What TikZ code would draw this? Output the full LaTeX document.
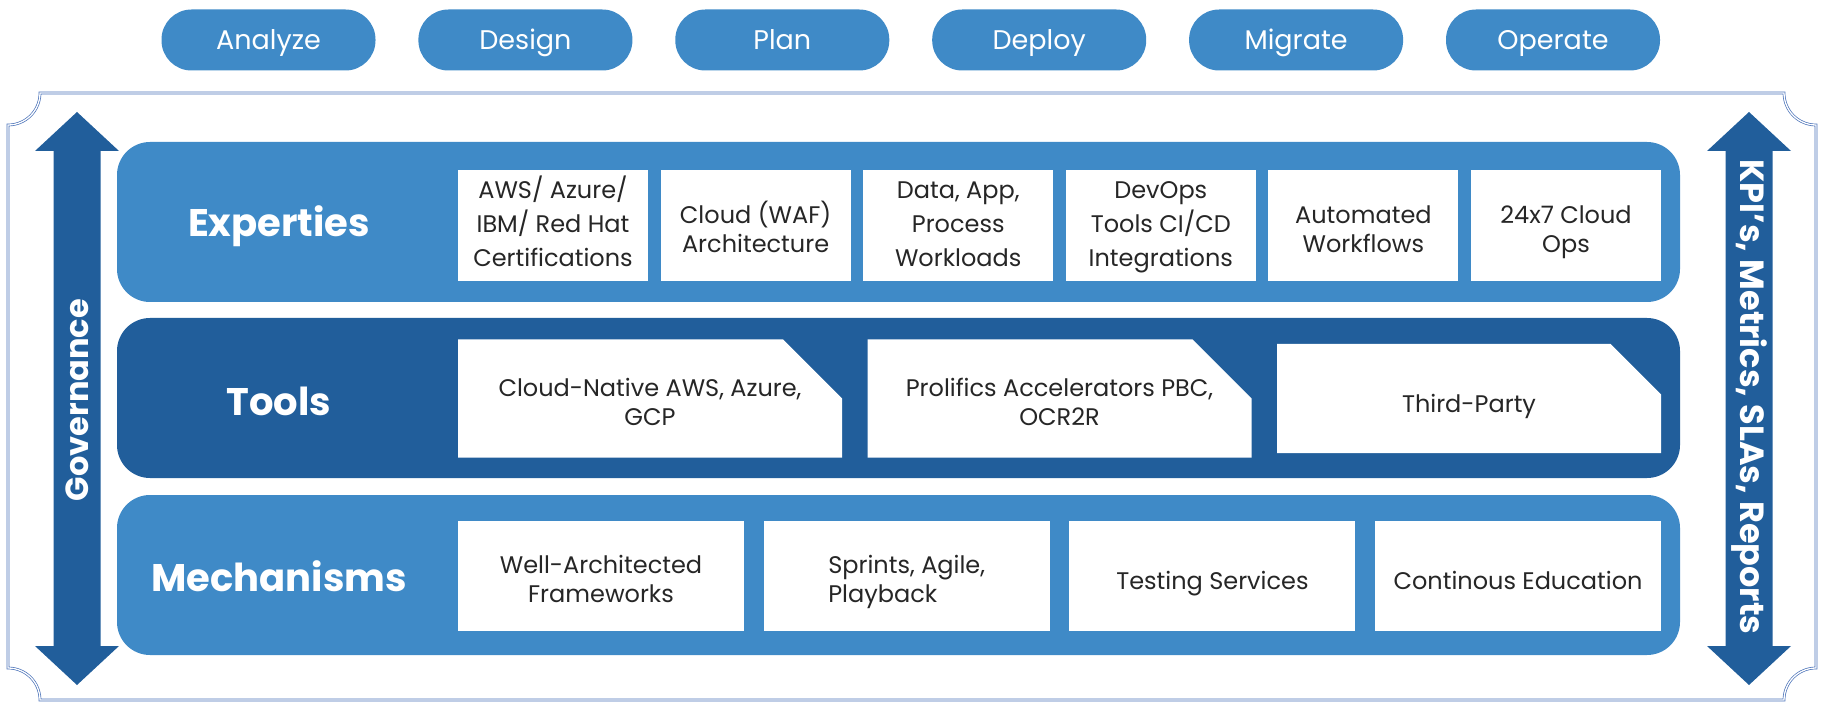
\documentclass[tikz,border=0pt]{standalone}
\usepackage{fontspec}
\setmainfont{Poppins}
\usetikzlibrary{shapes.misc}
\definecolor{lightblue}{HTML}{3F8AC7}
\definecolor{darkblue}{HTML}{215E9B}
\definecolor{frameblue}{HTML}{4A72B8}
\definecolor{itemtext}{HTML}{262626}
\tikzset{
	phase/.style={fill=lightblue, text=white, rounded corners=30pt, minimum width=214pt, minimum height=61pt, inner sep=0pt, text height=19pt, text depth=0pt, font=\fontsize{27}{30}\selectfont},
	layer/.style={rounded corners=33pt, minimum width=1563pt, minimum height=160pt, inner sep=0pt},
	layertitle/.style={text=white, inner sep=0pt, text height=27pt, text depth=0pt, font=\bfseries\fontsize{38.5}{42}\selectfont},
	item/.style={fill=white, text=itemtext, align=center, inner sep=0pt, text height=33pt, text depth=6pt, font=\fontsize{24}{29}\selectfont},
	twolines/.style={text height=55pt, text depth=1.4pt},
	threelines/.style={text height=82pt, text depth=0.6pt, font=\fontsize{24}{34}\selectfont},
	expitem/.style={item, minimum width=190pt, minimum height=111pt},
	mechitem/.style={item, minimum width=286pt, minimum height=110pt},
	toolitem/.style={item, chamfered rectangle, chamfered rectangle corners=north east, chamfered rectangle sep=31pt, minimum width=384pt, minimum height=109pt},
	sidetext/.style={text=white, inner sep=0pt, font=\bfseries\fontsize{32}{34}\selectfont},
	frameline/.style={draw=frameblue, line width=0.7pt, double=white, double distance=1.3pt}
}
\begin{document}
\begin{tikzpicture}[x=1pt,y=-1pt]
	\useasboundingbox (0,0) rectangle (1829,703);
	% phases
	\foreach \p [count=\i] in {Analyze,Design,Plan,Deploy,Migrate,Operate}
		\node[phase] (phase\i) at ({268.5+256.9*(\i-1)},40) {\p};
	
	% frame
	\draw[frameline] (8,125) .. controls (25.7,125) and (40,110.7) .. (40,93) -- (1784,93)
		.. controls (1784,110.7) and (1798.3,125) .. (1816,125) -- (1816,668)
		.. controls (1798.3,668) and (1784,682.3) .. (1784,700) -- (40,700)
		.. controls (40,682.3) and (25.7,668) .. (8,668) -- cycle;
	
	% governance
	\fill[darkblue] (77,112) -- (119,151) -- (100.5,151) -- (100.5,646) -- (119,646) -- (77,685)
		-- (35,646) -- (53.5,646) -- (53.5,151) -- (35,151) -- cycle;
	\node[sidetext, rotate=90] (gov) at (77,400) {Governance};
	% kpi
	\fill[darkblue] (1749,112) -- (1791,151) -- (1772.5,151) -- (1772.5,646) -- (1791,646) -- (1749,685)
		-- (1707,646) -- (1725.5,646) -- (1725.5,151) -- (1707,151) -- cycle;
	\node[sidetext, rotate=-90, font=\bfseries\fontsize{33.5}{36}\selectfont] (kpi) at (1749,397) {KPI’s, Metrics, SLAs, Reports};
	
	% layers
	\node[layer, fill=lightblue] (experties) at (898.5,222) {};
	\node[layer, fill=darkblue] (tools) at (898.5,398) {};
	\node[layer, fill=lightblue] (mechanisms) at (898.5,575) {};
	\node[layertitle] (expertiestitle) at (279,223) {Experties};
	\node[layertitle] (toolstitle) at (279,402) {Tools};
	\node[layertitle] (mechanismstitle) at (279,578) {Mechanisms};
	
	% experties
	\node[expitem, threelines] (exp1) at (553,225.5) {AWS/ Azure/\\IBM/ Red Hat\\Certifications};
	\node[expitem, twolines] (exp2) at (755.6,225.5) {Cloud (WAF)\\Architecture};
	\node[expitem, threelines] (exp3) at (958.2,225.5) {Data, App,\\Process\\Workloads};
	\node[expitem, threelines] (exp4) at (1160.8,225.5) {DevOps\\Tools CI/CD\\Integrations};
	\node[expitem, twolines] (exp5) at (1363.4,225.5) {Automated\\Workflows};
	\node[expitem, twolines] (exp6) at (1566,225.5) {24x7 Cloud\\Ops};
	
	% tools
	\node[toolitem, twolines] (tool1) at (650,398.5) {Cloud-Native AWS, Azure,\\GCP};
	\node[toolitem, twolines] (tool2) at (1059.5,398.5) {Prolifics Accelerators PBC,\\OCR2R};
	\node[toolitem] (tool3) at (1469,398.5) {Third-Party};
	
	% mechanisms
	\node[mechitem, twolines] (mech1) at (601,576) {Well-Architected\\Frameworks};
	\node[mechitem, twolines, align=left] (mech2) at (906.7,576) {Sprints, Agile,\\Playback};
	\node[mechitem] (mech3) at (1212.4,576) {Testing Services};
	\node[mechitem] (mech4) at (1518,576) {Continous Education};
\end{tikzpicture}
\end{document}
